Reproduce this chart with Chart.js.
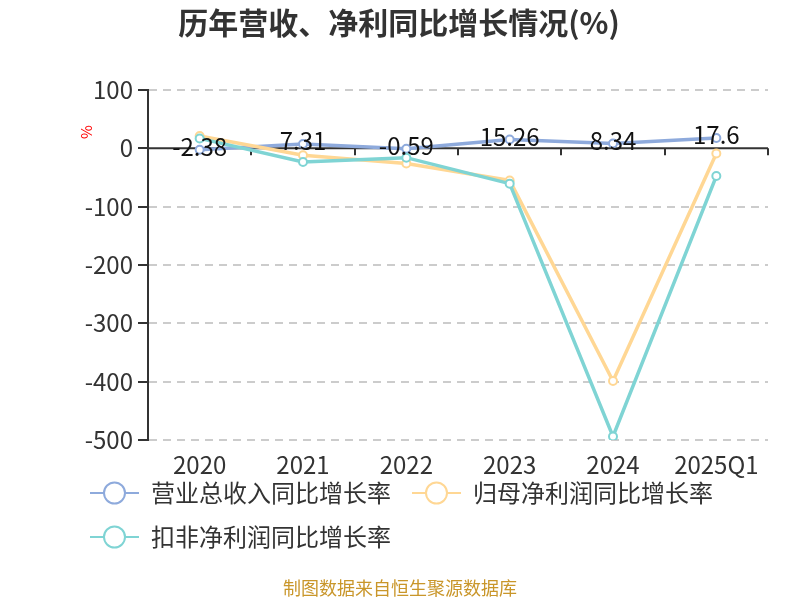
<!doctype html>
<html lang="zh">
<head>
  <meta charset="utf-8">
  <title>历年营收、净利同比增长情况</title>
  <script src="https://cdn.jsdelivr.net/npm/chart.js"></script>
  <style>
    html, body { margin: 0; padding: 0; background: #fff; }
    #wrap { width: 800px; height: 600px; }
  </style>
</head>
<body>
  <div id="wrap"><canvas id="growthChart" width="800" height="600"></canvas></div>

  <script>
    // chart data
    const years = ['2020', '2021', '2022', '2023', '2024', '2025Q1'];
    const revenueGrowth = [-2.38, 7.31, -0.59, 15.26, 8.34, 17.6];
    const netProfitGrowth = [21, -12, -26, -55, -399, -9];
    const deductedProfitGrowth = [17, -23.5, -16, -60.5, -494, -47.5];
    const seriesNames = ['营业总收入同比增长率', '归母净利润同比增长率', '扣非净利润同比增长率'];
    const yTicks = [100, 0, -100, -200, -300, -400, -500];

    const colors = ['#8eaadc', '#ffd794', '#7fd4d4'];
    const FONT = '"Noto Sans CJK SC", "Noto Sans", sans-serif';

    // title, axis name, zero axis, value labels, legend, footer
    const decor = {
      id: 'decor',
      beforeDatasetsDraw(chart) {
        const ctx = chart.ctx;
        const x = chart.scales.x, y = chart.scales.y;
        const y0 = y.getPixelForValue(0);
        ctx.save();
        ctx.strokeStyle = '#333';
        ctx.lineWidth = 2;
        ctx.beginPath();
        ctx.moveTo(chart.chartArea.left, y0);
        ctx.lineTo(chart.chartArea.right, y0);
        // ticks on category boundaries
        for (let i = 0; i <= years.length; i++) {
          const px = Math.round(x.getPixelForValue(i - 0.5));
          ctx.moveTo(px, y0);
          ctx.lineTo(px, y0 + 7);
        }
        ctx.stroke();
        ctx.restore();
      },
      afterDatasetsDraw(chart) {
        const ctx = chart.ctx;
        ctx.save();
        // value labels for revenue series
        const meta = chart.getDatasetMeta(0);
        ctx.fillStyle = '#111';
        ctx.font = '24px ' + FONT;
        ctx.textAlign = 'center';
        ctx.textBaseline = 'middle';
        meta.data.forEach((pt, i) => {
          ctx.fillText(String(revenueGrowth[i]), pt.x, pt.y - 3);
        });
        ctx.restore();
      },
      afterDraw(chart) {
        const ctx = chart.ctx;
        ctx.save();
        // title
        ctx.fillStyle = '#333';
        ctx.font = 'bold 30px ' + FONT;
        ctx.textAlign = 'center';
        ctx.textBaseline = 'middle';
        ctx.fillText('历年营收、净利同比增长情况(%)', 399, 23);

        // axis name
        ctx.save();
        ctx.translate(86, 132);
        ctx.rotate(-Math.PI / 2);
        ctx.fillStyle = '#ff0000';
        ctx.font = '15px ' + FONT;
        ctx.fillText('%', 0, 0);
        ctx.restore();

        // legend
        const items = [
          { x: 90, y: 493 },
          { x: 412, y: 493 },
          { x: 90, y: 537 }
        ];
        ctx.font = '24px ' + FONT;
        ctx.textAlign = 'left';
        items.forEach((it, i) => {
          ctx.strokeStyle = colors[i];
          ctx.lineWidth = 2;
          ctx.beginPath();
          ctx.moveTo(it.x, it.y);
          ctx.lineTo(it.x + 49, it.y);
          ctx.stroke();
          ctx.beginPath();
          ctx.arc(it.x + 24.5, it.y, 10.5, 0, Math.PI * 2);
          ctx.fillStyle = '#fff';
          ctx.fill();
          ctx.stroke();
          ctx.fillStyle = '#333';
          ctx.fillText(seriesNames[i], it.x + 61, it.y);
        });

        // footer
        ctx.fillStyle = '#c9962a';
        ctx.font = '18px ' + FONT;
        ctx.textAlign = 'center';
        ctx.fillText('制图数据来自恒生聚源数据库', 400, 588);
        ctx.restore();
      }
    };

    function lineSet(label, data, color, order) {
      return {
        label, data,
        borderColor: color,
        backgroundColor: '#fff',
        borderWidth: 3.5,
        pointRadius: 4,
        pointBorderWidth: 2,
        pointBackgroundColor: '#fff',
        pointBorderColor: color,
        tension: 0,
        order
      };
    }

    new Chart(document.getElementById('growthChart'), {
      type: 'line',
      data: {
        labels: years,
        datasets: [
          lineSet(seriesNames[0], revenueGrowth, colors[0], 2),
          lineSet(seriesNames[1], netProfitGrowth, colors[1], 1),
          lineSet(seriesNames[2], deductedProfitGrowth, colors[2], 0)
        ]
      },
      options: {
        responsive: false,
        animation: false,
        layout: { padding: { top: 90, right: 32, bottom: 100, left: 0 } },
        plugins: {
          legend: { display: false },
          title: { display: false },
          tooltip: { enabled: false }
        },
        scales: {
          x: {
            offset: true,
            grid: { display: false, drawTicks: false },
            border: { display: false },
            ticks: { color: '#333', font: { size: 24, family: FONT }, padding: 10, maxRotation: 0, autoSkip: false },
            afterFit(scale) { scale.height = 60; }
          },
          y: {
            min: -500,
            max: 100,
            afterBuildTicks(scale) { scale.ticks = yTicks.map(v => ({ value: v })); },
            grid: {
              color: c => (c.tick && c.tick.value === 0) ? 'rgba(0,0,0,0)' : '#cccccc',
              lineWidth: 2,
              tickLength: 10,
              tickColor: '#333',
              tickWidth: 2
            },
            border: { display: true, color: '#333', width: 2, dash: [8, 6] },
            ticks: { color: '#333', font: { size: 24, family: FONT }, padding: 5 },
            afterFit(scale) { scale.width = 148; }
          }
        }
      },
      plugins: [decor]
    });
  </script>
</body>
</html>
